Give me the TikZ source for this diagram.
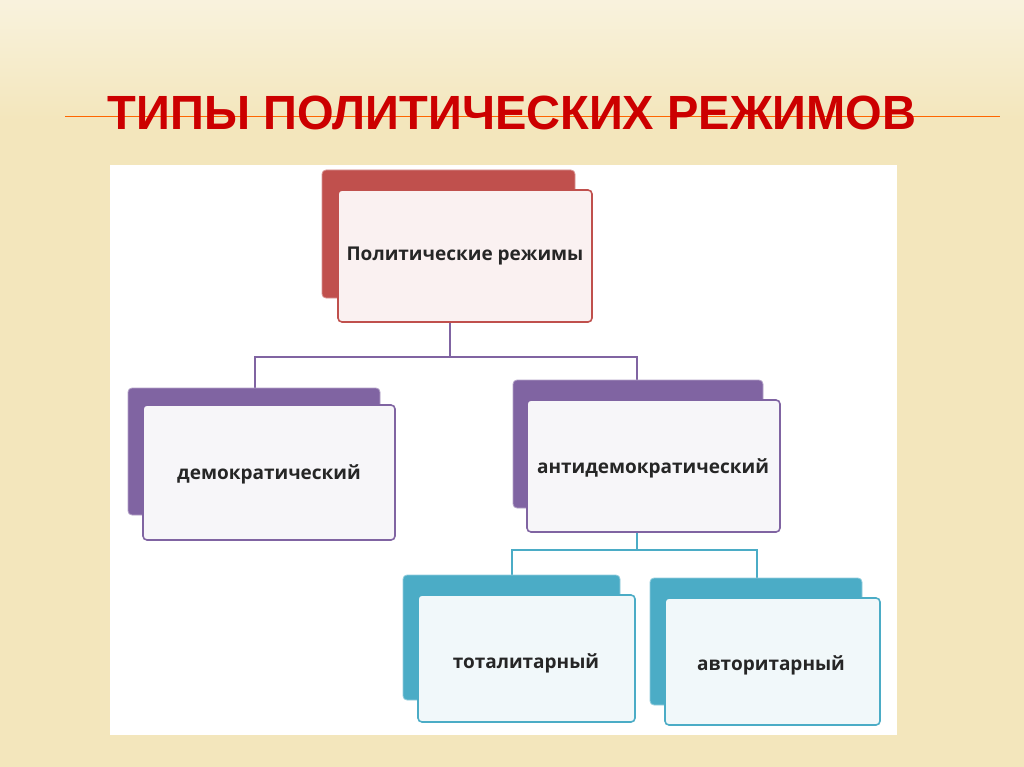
\documentclass[tikz,border=0pt]{standalone}
\usepackage{fontspec}
\setmainfont{Open Sans}
\newfontfamily\titlefont{Liberation Sans}
\definecolor{bgc}{HTML}{F3E6BC}
\definecolor{redb}{HTML}{C0504D}
\definecolor{purb}{HTML}{8064A2}
\definecolor{blub}{HTML}{4BACC6}
\tikzset{
 back/.style={rounded corners=4pt, line width=0.8pt},
 front/.style={rounded corners=4pt, line width=1.6pt},
 lbl/.style={font=\fontsize{19}{22}\selectfont\bfseries, text=black!85},
 conn/.style={line width=1.4pt}
}
\begin{document}
\begin{tikzpicture}[x=1pt,y=-1pt]
\useasboundingbox (0,0) rectangle (1024,767);
\shade[top color=white!50!bgc, bottom color=bgc] (0,0) rectangle (1024,120);
\fill[bgc] (0,120) rectangle (1024,767);
\draw[orange!80!red, line width=1pt] (65,117) -- (1000,117);
\node[font=\titlefont\bfseries\fontsize{48}{52}\selectfont, text=red!80!black, xscale=0.98] (title) at (512,113) {ТИПЫ ПОЛИТИЧЕСКИХ РЕЖИМОВ};
\fill[white] (110,165) rectangle (897,735);
% connectors
\draw[conn, purb] (450,322) -- (450,357);
\draw[conn, purb] (255,405) -- (255,357) -- (637,357) -- (637,380);
\draw[conn, blub] (637,532) -- (637,550) -- (512,550) -- (512,575);
\draw[conn, blub] (637,550) -- (757,550) -- (757,578);
% top
\filldraw[back, fill=redb, draw=redb!60] (322,170) rectangle (575,298);
\filldraw[front, fill=redb!8, draw=redb] (338,190) rectangle (592,322);
\node[lbl] (top) at (465,256) {Политические режимы};
% demo
\filldraw[back, fill=purb, draw=purb!60] (128,388) rectangle (380,515);
\filldraw[front, fill=purb!6, draw=purb] (143,405) rectangle (395,540);
\node[lbl] (demo) at (269,474) {демократический};
% anti
\filldraw[back, fill=purb, draw=purb!60] (513,380) rectangle (763,508);
\filldraw[front, fill=purb!6, draw=purb] (527,400) rectangle (780,532);
\node[lbl] (anti) at (653,468) {антидемократический};
% total
\filldraw[back, fill=blub, draw=blub!60] (403,575) rectangle (620,700);
\filldraw[front, fill=blub!8, draw=blub] (418,595) rectangle (635,722);
\node[lbl] (tot) at (526,663) {тоталитарный};
% avto
\filldraw[back, fill=blub, draw=blub!60] (650,578) rectangle (862,705);
\filldraw[front, fill=blub!8, draw=blub] (665,598) rectangle (880,725);
\node[lbl] (avt) at (771,665) {авторитарный};
\end{tikzpicture}
\end{document}
